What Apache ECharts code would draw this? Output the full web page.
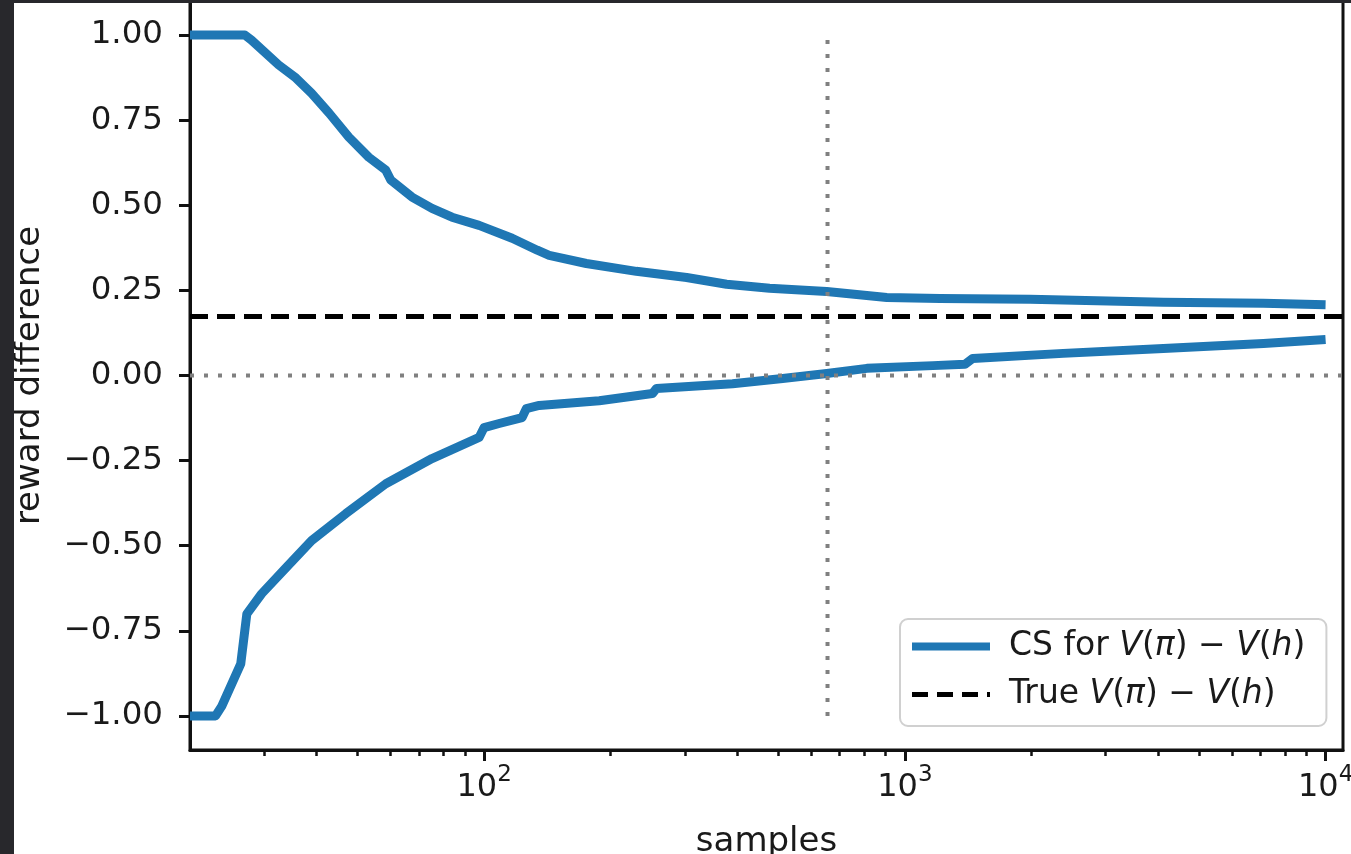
<!DOCTYPE html>
<html><head><meta charset="utf-8">
<script src="https://cdn.jsdelivr.net/npm/echarts@6/dist/echarts.min.js"></script>
<style>
html,body{margin:0;padding:0;background:#fff;overflow:hidden;}
#chart{position:absolute;left:0;top:0;width:1351px;height:854px;}
.band{position:absolute;background:#28282c;}
</style></head><body>
<div id="chart"></div>
<div class="band" style="left:0;top:0;width:14px;height:854px"></div>
<div class="band" style="left:0;top:0;width:1351px;height:3px"></div>
<script>
// ---- data ----
const upperX = [20, 27, 28, 32.5, 35.7, 38.9, 42.8, 47.7, 53.2, 58.4, 60, 67.4, 75.2, 83.9, 97.3, 116.6, 133.8, 142.8, 175, 230, 303, 377, 477, 652, 906, 1212, 1985, 4115, 7118, 10000];
const upperY = [1.0, 1.0, 0.985, 0.912, 0.874, 0.829, 0.771, 0.700, 0.641, 0.603, 0.574, 0.524, 0.491, 0.465, 0.441, 0.403, 0.368, 0.353, 0.329, 0.306, 0.288, 0.268, 0.256, 0.247, 0.229, 0.226, 0.224, 0.215, 0.212, 0.208];
const lowerX = [20, 23, 23.8, 26.4, 27.3, 29.6, 33.8, 38.9, 46.9, 58.4, 75.2, 97.3, 100, 108.6, 123.1, 126, 135.2, 187.8, 251.2, 257, 389.5, 512.3, 652.2, 812.3, 1166, 1389, 1450, 2378, 4115, 7118, 10000];
const lowerY = [-1.0, -1.0, -0.971, -0.847, -0.700, -0.641, -0.565, -0.485, -0.406, -0.318, -0.244, -0.182, -0.153, -0.141, -0.124, -0.097, -0.088, -0.074, -0.053, -0.038, -0.024, -0.009, 0.006, 0.021, 0.029, 0.033, 0.050, 0.065, 0.079, 0.094, 0.106];
const trueDiff = 0.173;
const crossoverX = 655;
const vlineRange = [-1, 1];
const xLimits = [20, 11000];
const yLimits = [-1.1, 1.1];
const xMajorTicks = [100, 1000, 10000];
const xMinorTicks = [30, 40, 50, 60, 70, 80, 90, 200, 300, 400, 500, 600, 700, 800, 900, 2000, 3000, 4000, 5000, 6000, 7000, 8000, 9000];
const yTicks = [-1.0, -0.75, -0.5, -0.25, 0, 0.25, 0.5, 0.75, 1.0];
const csName = 'CS for V(π) − V(h)';
const trueName = 'True V(π) − V(h)';
const xLabel = 'samples';
const yLabel = 'reward difference';

// ---- chart ----
const FONT = 'DejaVu Sans';
const BLUE = '#1f77b4';
const TXT = '#1a1a1a';
const zip = (xs, ys) => xs.map((x, i) => [x, ys[i]]);
const legendRich = {
  n: {fontFamily: FONT, fontSize: 33, color: TXT},
  i: {fontFamily: FONT, fontSize: 33, color: TXT, fontStyle: 'italic'}
};
function legendFmt(name) {
  if (name === csName) return '{n|CS for }{i|V}{n|(}{i|π}{n|) − }{i|V}{n|(}{i|h}{n|)}';
  return '{n|True }{i|V}{n|(}{i|π}{n|) − }{i|V}{n|(}{i|h}{n|)}';
}
const chart = echarts.init(document.getElementById('chart'), null, {renderer: 'canvas'});
chart.setOption({
  animation: false,
  backgroundColor: '#fff',
  grid: {left: 190, right: 8, top: 1, bottom: 104, show: true, borderColor: '#111', borderWidth: 3,
    containLabel: false, outerBoundsMode: 'none'},
  legend: {
    data: [
      {name: csName, itemStyle: {opacity: 0}, lineStyle: {color: BLUE, width: 8, type: 'solid'}},
      {name: trueName, itemStyle: {opacity: 0}, lineStyle: {color: '#000', width: 5, type: [16, 9]}}
    ],
    orient: 'vertical',
    left: 900, top: 619,
    padding: [11, 21, 15, 8],
    itemWidth: 78, itemHeight: 36, itemGap: 15,
    backgroundColor: '#fff', borderColor: '#d0d0d0', borderWidth: 2, borderRadius: 8,
    formatter: legendFmt,
    textStyle: {rich: legendRich, fontSize: 33, fontFamily: FONT, padding: [0, 0, 0, 14]},
    selectedMode: false
  },
  xAxis: [{
    type: 'log', logBase: 10, min: xLimits[0], max: xLimits[1],
    position: 'bottom',
    name: xLabel, nameLocation: 'middle', nameGap: 75,
    nameTextStyle: {fontFamily: FONT, fontSize: 34, color: TXT},
    axisLine: {show: true, onZero: false, lineStyle: {color: '#111', width: 3}},
    axisTick: {show: true, customValues: xMajorTicks, length: 11, lineStyle: {color: '#111', width: 3}},
    axisLabel: {
      customValues: xMajorTicks, margin: 14,
      formatter: v => '{b|10}{s|' + Math.round(Math.log10(v)) + '}',
      rich: {
        b: {fontFamily: FONT, fontSize: 32, color: TXT, verticalAlign: 'bottom', lineHeight: 40},
        s: {fontFamily: FONT, fontSize: 23, color: TXT, verticalAlign: 'top', lineHeight: 40, padding: [0, 0, 12, 0]}
      }
    },
    splitLine: {show: false}
  }, {
    type: 'log', logBase: 10, min: xLimits[0], max: xLimits[1],
    position: 'bottom', gridIndex: 0,
    axisLine: {show: false, onZero: false},
    axisTick: {show: true, customValues: xMinorTicks, length: 6, lineStyle: {color: '#111', width: 2.5}},
    axisLabel: {show: false},
    splitLine: {show: false}
  }],
  yAxis: {
    type: 'value', min: yLimits[0], max: yLimits[1],
    name: yLabel, nameLocation: 'middle', nameGap: 143,
    nameTextStyle: {fontFamily: FONT, fontSize: 34, color: TXT},
    axisLine: {show: true, onZero: false, lineStyle: {color: '#111', width: 3}},
    axisTick: {show: true, customValues: yTicks, length: 11, lineStyle: {color: '#111', width: 3}},
    axisLabel: {
      customValues: yTicks, margin: 27,
      fontFamily: FONT, fontSize: 32.5, color: TXT,
      formatter: v => v.toFixed(2).replace('-', '−')
    },
    splitLine: {show: false}
  },
  series: [
    {name: csName, type: 'line', data: zip(upperX, upperY), symbol: 'none', lineStyle: {color: BLUE, width: 9, join: 'round'}, itemStyle: {color: BLUE}, z: 2},
    {name: csName, type: 'line', data: zip(lowerX, lowerY), symbol: 'none', lineStyle: {color: BLUE, width: 9, join: 'round'}, itemStyle: {color: BLUE}, z: 2},
    {name: trueName, type: 'line', data: [[xLimits[0], trueDiff], [xLimits[1], trueDiff]], symbol: 'none',
      lineStyle: {color: '#000', width: 5, type: [18, 9]}, itemStyle: {color: '#000'}, z: 3},
    {name: 'zero', type: 'line', data: [[xLimits[0], 0], [xLimits[1], 0]], symbol: 'none',
      lineStyle: {color: '#808080', width: 4, type: [4, 10]}, z: 3},
    {name: 'cross', type: 'line', data: [[crossoverX, vlineRange[0]], [crossoverX, vlineRange[1]]], symbol: 'none',
      lineStyle: {color: '#808080', width: 4, type: [4, 10]}, z: 3}
  ]
});
</script>
</body></html>
